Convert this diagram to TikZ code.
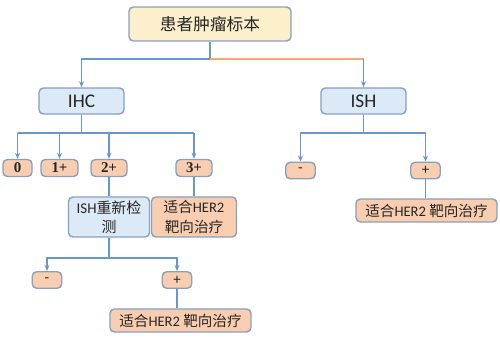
\documentclass[tikz,border=0pt]{standalone}
\usepackage{fontspec}
\setmainfont{Carlito}
\newfontfamily\cjk{Noto Sans CJK SC}
\newfontfamily\tms{Liberation Serif}
\usetikzlibrary{arrows.meta, positioning, calc}
\definecolor{rootyel}{RGB}{252,239,204}
\definecolor{testblue}{RGB}{220,233,246}
\definecolor{resorange}{RGB}{248,205,176}
\definecolor{framegray}{RGB}{135,160,190}
\definecolor{linkblue}{RGB}{104,150,205}
\definecolor{linkorange}{RGB}{244,168,108}

\begin{document}
\begin{tikzpicture}[
    x=0.02cm, y=-0.02cm,
    box/.style={rectangle, draw=framegray, line width=0.8pt, rounded corners=2.5pt, inner sep=0pt, align=center, text=black!85},
    test/.style={box, fill=testblue, minimum width=1.7cm, minimum height=0.52cm, font=\fontsize{11}{12}\selectfont},
    lvl/.style={box, fill=resorange, minimum height=0.34cm, font=\tms\bfseries\fontsize{8.5}{9}\selectfont},
    sgn/.style={box, fill=resorange, minimum width=0.59cm, minimum height=0.33cm, font=\fontsize{8.5}{9}\selectfont},
    res/.style={box, fill=resorange, font=\fontsize{8.3}{11}\selectfont},
    link/.style={linkblue, line width=0.7pt},
    arr/.style={-{Stealth[length=1.2mm, width=1mm]}, link}
]
\useasboundingbox (0,0) rectangle (500,340);

% Top: specimen and the two tests
\node[box, fill=rootyel, minimum width=3.24cm, minimum height=0.68cm, font=\fontsize{9.5}{11}\selectfont] (root) at (210,24) {{\cjk 患者肿瘤标本}};
\node[test] (ihc) at (81.5,101) {IHC};
\node[test] (ish) at (363.5,101) {ISH};

% IHC scores
\node[lvl, minimum width=0.58cm] (l0) at (17.5,168) {0};
\node[lvl, minimum width=0.74cm] (l1) at (59.5,168) {1+};
\node[lvl, minimum width=0.72cm] (l2) at (109,168) {2+};
\node[lvl, minimum width=0.72cm] (l3) at (194,168) {3+};

\node[box, fill=testblue, minimum width=1.62cm, minimum height=0.8cm, font=\fontsize{8.5}{11}\selectfont] (retest) at (109,217) {ISH{\cjk 重新检}\\{\cjk 测}};
\node[res, minimum width=1.7cm, minimum height=0.8cm] (fit3) at (194,217) {{\cjk 适合}HER2\\{\cjk 靶向治疗}};

% retest results
\node[sgn] (rneg) at (47,280) {-};
\node[sgn] (rpos) at (177,280) {+};
\node[res, minimum width=2.82cm, minimum height=0.46cm] (fitr) at (180.5,320.5) {{\cjk 适合}HER2 {\cjk 靶向治疗}};

% ISH results
\node[sgn] (sneg) at (300.5,170.5) {-};
\node[sgn] (spos) at (425.5,170.5) {+};
\node[res, minimum width=2.82cm, minimum height=0.46cm] (fits) at (426.5,210.5) {{\cjk 适合}HER2 {\cjk 靶向治疗}};

% Junctions
\coordinate (tj) at (210,59);
\coordinate (ihcj) at (81.5,133);
\coordinate (rj) at (109,258);
\coordinate (ishj) at (363.5,133);

% Specimen to tests
\draw[link] (root) -- (tj);
\draw[arr] (tj) -| (ihc);
\draw[link, linkorange] (tj) -- (tj -| ish);
\draw[arr] (tj -| ish) -- (ish);

% IHC branch
\draw[link] (ihc) -- (ihcj);
\draw[link] (l0 |- ihcj) -- (l3 |- ihcj);
\foreach \n in {l0,l1,l2,l3}
    \draw[arr] (\n |- ihcj) -- (\n);
\draw[link] (l2) -- (retest);
\draw[link] (l3) -- (fit3);
\draw[link] (retest) -- (rj);
\draw[arr] (rj) -| (rneg);
\draw[arr] (rj) -| (rpos);
\draw[link] (rpos) -- (rpos |- fitr.north);

% ISH branch
\draw[link] (ish) -- (ishj);
\draw[arr] (ishj) -| (sneg);
\draw[arr] (ishj) -| (spos);
\draw[link] (spos) -- (spos |- fits.north);
\end{tikzpicture}
\end{document}
